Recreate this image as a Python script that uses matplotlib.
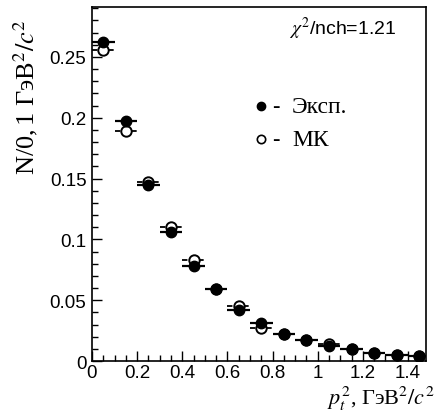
import matplotlib
matplotlib.use('Agg')
import matplotlib.pyplot as plt
import numpy as np
from matplotlib.ticker import MultipleLocator, FuncFormatter

plt.rcParams['mathtext.fontset'] = 'stix'

# центры бинов по p_t^2
pt2 = [0.05, 0.15, 0.25, 0.35, 0.45, 0.55, 0.65, 0.75, 0.85, 0.95, 1.05, 1.15, 1.25, 1.35, 1.45]
half_bin = 0.05

exp_y = [0.262, 0.197, 0.145, 0.106, 0.078, 0.059, 0.042, 0.031, 0.022, 0.017, 0.0126, 0.0096, 0.0066, 0.0049, 0.0039]
exp_err = [0.003, 0.003, 0.002, 0.002, 0.002, 0.0015, 0.0015, 0.0012, 0.001, 0.001, 0.0009, 0.0008, 0.0007, 0.0006, 0.0006]

mc_y = [0.256, 0.189, 0.147, 0.110, 0.083, 0.059, 0.0455, 0.027, 0.022, 0.017, 0.014, 0.0098, 0.0066, 0.005, 0.0039]
mc_err = [0.003, 0.003, 0.002, 0.002, 0.002, 0.0015, 0.0015, 0.0012, 0.001, 0.001, 0.0009, 0.0008, 0.0007, 0.0006, 0.0006]

fig = plt.figure(figsize=(4.36, 4.14), dpi=100)
ax = fig.add_axes([0.211, 0.1256, 0.766, 0.855])

# МК: пустые кружки, пунктирные погрешности
eb = ax.errorbar(pt2, mc_y, xerr=half_bin, yerr=mc_err, fmt='o', ms=7.5,
                 mfc='white', mec='black', mew=1.4, ecolor='black', elinewidth=1.3,
                 capsize=0, zorder=2)
eb[2][0].set_linestyle((0, (3, 1.5)))

# эксперимент: закрашенные кружки
ax.errorbar(pt2, exp_y, xerr=half_bin, yerr=exp_err, fmt='o', ms=7.5,
            mfc='black', mec='black', ecolor='black', elinewidth=1.6,
            capsize=0, zorder=3)

ax.set_xlim(0, 1.48)
ax.set_ylim(0, 0.291)
ax.xaxis.set_major_locator(MultipleLocator(0.2))
ax.xaxis.set_minor_locator(MultipleLocator(0.05))
ax.yaxis.set_major_locator(MultipleLocator(0.05))
ax.yaxis.set_minor_locator(MultipleLocator(0.01))
ax.tick_params(which='both', direction='in', top=False, right=False)
ax.tick_params(which='major', length=7, width=1, pad=4)
ax.tick_params(axis='x', which='major', pad=2)
ax.tick_params(which='minor', length=4, width=1)
ax.xaxis.set_major_formatter(FuncFormatter(lambda v, p: '%g' % round(v, 2)))
ax.yaxis.set_major_formatter(FuncFormatter(lambda v, p: '%g' % round(v, 2)))
for lab in ax.get_xticklabels() + ax.get_yticklabels():
    lab.set_fontfamily('Liberation Sans')
    lab.set_fontsize(13.5)
for sp in ax.spines.values():
    sp.set_linewidth(1.2)

# подписи осей
ax.text(-0.2, 0.747, r'N/0,$\,$1 ГэВ$^2/c^2$', transform=ax.transAxes, rotation=90,
        ha='center', va='center', family='Liberation Serif', fontsize=19)
ax.text(1.027, -0.12, r'$p_t^2$, ГэВ$^2/c^2$', transform=ax.transAxes,
        ha='right', va='baseline', family='Liberation Serif', fontsize=16)

ax.text(0.912, 0.941, r'$\chi^2$/nch=1.21', transform=ax.transAxes, ha='right', va='center',
        family='Liberation Sans', fontsize=14)

# легенда
ax.plot([0.505], [0.720], 'o', ms=6, mfc='black', mec='black', transform=ax.transAxes)
ax.text(0.551, 0.720, '-', transform=ax.transAxes, ha='center', va='center',
        family='Liberation Serif', fontsize=16)
ax.text(0.599, 0.720, 'Эксп.', transform=ax.transAxes, va='center',
        family='Liberation Serif', fontsize=17)
ax.plot([0.505], [0.627], 'o', ms=6, mfc='white', mec='black', mew=1.2, transform=ax.transAxes)
ax.text(0.551, 0.627, '-', transform=ax.transAxes, ha='center', va='center',
        family='Liberation Serif', fontsize=16)
ax.text(0.599, 0.627, 'МК', transform=ax.transAxes, va='center',
        family='Liberation Serif', fontsize=17)

fig.savefig('out.png', dpi=100)
